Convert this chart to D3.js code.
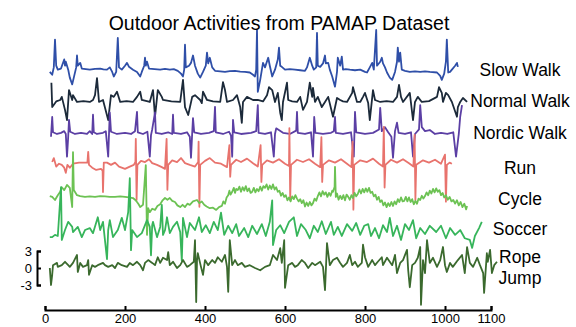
<!DOCTYPE html>
<html>
<head>
<meta charset="utf-8">
<script src="https://cdn.jsdelivr.net/npm/d3@7"></script>
<style>
  body { margin: 0; background: #fff; }
  svg { display: block; font-family: "Liberation Sans", Arial, sans-serif; }
</style>
</head>
<body>
<div id="chart"></div>
<script>
// activity names (right-hand labels)
const activities = ["Slow Walk", "Normal Walk", "Nordic Walk", "Run", "Cycle", "Soccer", "Rope Jump"];

// signals: [sample, value]
const slowWalk = [[12,-0.4],[18,-0.9],[22,0.4],[25,5.3],[28,0.7],[32,0],[40,0.2],[48,1.8],[50,0.7],[52,1.4],[58,0],[62,-1.4],[68,-2.6],[72,-1.4],[78,0.4],[80,2.5],[82,0.7],[88,1.2],[92,0.2],[102,0.1],[112,0],[125,0.15],[138,0.2],[146,0.05],[155,0],[162,0.4],[168,-0.4],[172,-1.2],[178,-0.4],[182,5.6],[185,0.4],[192,0],[200,0.7],[205,1.2],[210,0.5],[220,0],[230,-0.4],[238,-1.2],[242,-0.4],[248,0.7],[250,2.1],[252,0.7],[255,1.4],[260,0.2],[274,0.1],[288,0],[300,0.15],[312,0],[322,0.1],[332,-0.2],[340,-0.7],[345,-1.2],[348,0],[350,4.4],[352,0.4],[360,0.7],[365,1.2],[370,2.5],[375,0.7],[382,-0.7],[388,-1.4],[395,-0.4],[402,0.7],[405,3.0],[408,1.1],[412,2.1],[418,0.4],[425,-0.2],[438,-0.3],[450,-0.4],[462,-0.25],[475,-0.2],[488,-0.35],[500,-0.4],[512,-0.5],[520,-0.9],[525,-1.2],[528,0],[530,7.0],[532,-3.9],[538,-1.8],[545,1.2],[550,0.4],[558,2.1],[562,0.7],[568,-1.2],[575,0],[582,1.8],[585,3.9],[588,0.7],[592,0.5],[600,0],[612,0.1],[625,0],[638,-0.1],[650,-0.2],[655,0.4],[662,2.1],[668,0.7],[672,0],[678,0.4],[680,6.5],[682,0.7],[688,0.5],[695,1.1],[700,2.5],[702,1.1],[708,1.2],[712,0],[718,-1.2],[725,-3.0],[730,-0.4],[732,2.1],[738,0.7],[742,2.3],[745,0],[752,0.1],[762,0],[775,-0.1],[788,0],[800,-0.4],[805,-0.5],[812,0.4],[818,1.2],[822,0],[828,7.0],[830,0.7],[838,1.4],[842,2.1],[845,1.1],[850,0.4],[855,-0.5],[862,-1.4],[868,-1.8],[875,-0.4],[880,1.4],[882,3.9],[885,1.4],[888,3.0],[892,0],[900,-0.2],[912,-0.4],[925,-0.3],[938,-0.4],[950,-0.3],[962,-0.4],[980,-0.5],[988,-1.1],[992,-1.8],[998,-0.7],[1002,1.4],[1004,5.3],[1007,-0.5],[1011,-0.4],[1015,0],[1022,0.7],[1026,1.2],[1028,0.5]];

const normalWalk = [[16,3.4],[18,-0.9],[28,0.1],[38,0.35],[42,0.9],[50,-1.4],[55,-3.2],[60,2.1],[68,0.35],[70,1.2],[80,0],[96,0.15],[112,0],[120,0.35],[125,1.2],[130,4.2],[135,0],[145,0.35],[158,-3.2],[165,1.2],[172,0.9],[180,1.8],[188,0],[204,0.15],[220,0],[230,0.9],[238,1.8],[242,0.35],[262,0],[270,2.1],[275,-2.6],[282,2.1],[292,0.9],[295,0.35],[316,0.1],[338,0],[345,3.9],[350,-0.9],[358,-2.3],[368,0.9],[375,1.2],[388,0.35],[392,-0.2],[395,1.8],[405,0.35],[420,0.1],[438,0],[445,3.5],[450,2.1],[455,0],[470,0.35],[480,1.2],[488,-0.9],[492,-3.7],[495,0],[505,0.9],[520,0.35],[532,0.35],[545,0.1],[555,1.2],[560,2.6],[568,2.1],[575,0],[582,1.6],[588,-1.9],[592,-3.2],[595,0],[605,3.4],[608,0.35],[618,0.1],[630,0],[638,0.9],[645,-1.4],[655,0],[662,3.4],[668,0.9],[670,2.5],[675,0],[682,0.9],[692,-0.9],[700,0],[708,0.9],[720,-2.6],[730,0.7],[738,0.35],[745,0.1],[755,0],[768,1.6],[770,2.6],[780,0],[788,0],[795,0.9],[800,1.6],[808,-0.2],[812,-3.2],[820,2.1],[825,0.35],[838,0],[854,0.15],[870,0],[880,0.9],[885,3.0],[890,0.9],[895,0],[912,1.6],[920,-3.2],[925,0],[932,0.9],[942,0],[960,0.15],[980,0.9],[985,2.6],[992,1.6],[995,0],[1002,1.6],[1007,1.2],[1015,0],[1026,-2.6],[1028,-0.9],[1033,0],[1039,0.7],[1048,0]];

const nordicWalk = [[15,-0.5],[18,3.0],[20,0.3],[30,0],[40,0.2],[48,0.5],[52,0],[55,-4.0],[58,-0.5],[60,2.5],[63,0.4],[75,0],[90,0.2],[105,0],[112,0.5],[118,0],[120,3.4],[122,0.3],[130,0],[145,0.2],[152,0.5],[158,-4.0],[160,0],[162,3.8],[165,0.4],[180,0],[200,0.2],[215,0],[225,0.5],[230,3.9],[232,0.3],[245,0],[256,0.4],[262,-4.0],[265,-0.2],[268,0.8],[275,3.8],[277,0.2],[292,0],[308,0.3],[318,0],[320,3.4],[322,0.2],[340,0],[355,0.3],[362,-0.5],[365,-4.2],[368,0.2],[370,2.8],[373,0.3],[390,0],[410,0.2],[422,0.5],[425,4.8],[427,0.3],[445,0],[460,0.4],[465,-0.3],[468,-4.0],[470,2.5],[473,0.3],[490,0],[515,0.2],[528,0.5],[532,5.1],[534,0.2],[550,0],[565,0.3],[572,-4.0],[575,0],[578,1.0],[595,0.2],[612,0],[628,0.6],[630,3.9],[632,0.2],[650,0],[665,0.3],[670,-4.0],[673,3.0],[676,0.2],[695,0],[715,0.2],[722,0.5],[725,3.0],[727,0.2],[745,0],[765,0.3],[772,-4.0],[775,3.9],[778,0.3],[800,0],[820,0.2],[835,0.8],[838,4.6],[842,0.5],[850,1.2],[858,0.3],[866,-0.5],[870,-4.2],[875,0.5],[880,2.0],[884,0.2],[900,0],[915,0.3],[920,-4.0],[925,0],[935,0.8],[938,5.1],[942,1.2],[950,0.5],[962,0.7],[975,0],[990,0.2],[1005,0],[1018,0.3],[1024,-4.0],[1030,0],[1033,3.0],[1037,5.1]];

const run = [[18,0.5],[22,1.2],[28,-0.3],[35,0.2],[42,0],[48,-0.5],[52,-1.4],[56,0],[62,-0.5],[70,0.2],[85,0.4],[100,0.4],[106,0.4],[108,2.3],[110,0],[118,-0.5],[128,-0.9],[140,-0.7],[144,-1.0],[145,-4.8],[147,0.4],[155,0.4],[165,0],[175,0.4],[185,-0.3],[200,-0.7],[212,-0.3],[222,0],[226,0.5],[227,4.6],[229,-6.2],[231,0],[240,0.7],[250,0.5],[260,1.0],[268,0.3],[280,0],[292,-0.4],[300,-0.7],[304,4.6],[306,-4.4],[308,0],[318,0.8],[330,0.5],[340,1.2],[350,0.3],[362,0],[375,-0.3],[383,0.5],[384,4.1],[386,-7.4],[388,0],[400,0.7],[412,1.2],[425,0.4],[440,0.2],[455,-0.4],[461,3.5],[463,-2.1],[465,0],[478,0.9],[490,0.5],[505,1.1],[520,0.3],[532,-0.3],[539,3.5],[541,-3.0],[543,0],[555,0.8],[570,0.4],[585,1.0],[600,0.2],[610,-0.2],[611,6.5],[613,-6.2],[615,0],[630,0.9],[645,0.5],[660,1.0],[675,0.2],[688,-0.4],[691,4.9],[693,-3.0],[695,0],[710,0.8],[725,0.4],[740,1.0],[755,0.2],[766,-0.4],[769,4.1],[771,-7.9],[773,0],[788,0.8],[805,0.5],[820,1.1],[835,0.2],[845,-0.3],[847,6.7],[849,-4.0],[851,0],[865,0.9],[880,0.4],[895,1.0],[910,0.3],[921,-0.3],[924,5.3],[926,-6.2],[928,0],[945,0.8],[960,0.4],[975,0.9],[990,0.2],[1000,1.8],[1002,-6.5],[1004,0],[1010,0.4],[1015,0.2]];

const cycle = [[12,0.35],[18,0.2],[25,-0.35],[32,0.5],[38,1.1],[42,1.9],[48,1.4],[55,2.3],[62,1.8],[68,-1.6],[70,8.1],[72,1.4],[80,0.5],[88,0.35],[100,0.2],[112,0.3],[125,0.2],[138,0.35],[150,0.3],[162,0.2],[175,0.2],[188,0.3],[200,0.2],[210,0.1],[220,0],[225,-0.3],[230,-0.7],[234,-1.1],[238,-1.6],[245,-1.2],[252,5.8],[255,-6.5],[258,-1.8],[262,-2.5],[268,-1.9],[275,-2.1],[281,-1.4],[288,-1.1],[294,-0.4],[300,0],[306,-0.3],[312,0],[318,-0.5],[325,-0.7],[331,-1.3],[338,-1.6],[344,-1.2],[350,-1.6],[356,-1.0],[362,-1.2],[370,-0.6],[380,-0.35],[386,-0.9],[392,-0.6],[398,-1.2],[404,-1.5],[412,-1.8],[420,-1.7],[428,-2.1],[435,-1.6],[442,-1.4],[446,-0.6],[450,-1.0],[454,0.1],[458,0.5],[461,1.3],[464,0.6],[468,1.1],[472,1.8],[475,0.9],[478,1.6],[482,1.4],[486,2.0],[490,1.1],[494,1.9],[498,1.3],[502,2.1],[506,1.2],[510,1.7],[514,0.9],[518,1.1],[522,1.8],[526,1.0],[530,1.6],[534,1.2],[538,2.0],[542,1.3],[546,2.1],[550,1.8],[554,2.4],[558,1.5],[562,2.2],[566,1.6],[570,2.4],[574,1.5],[578,1.9],[582,1.1],[586,1.3],[590,0.4],[594,0.9],[598,0.2],[602,0.5],[606,-0.4],[610,0.1],[614,-0.6],[618,0.3],[622,-0.2],[626,0.5],[630,-0.1],[634,-0.6],[638,-0.2],[642,-0.9],[646,-0.4],[650,-1.5],[654,-0.8],[658,-1.4],[662,-0.7],[666,-1.3],[670,-0.9],[674,-0.1],[678,-0.5],[682,0.35],[686,1.0],[690,0.3],[694,1.2],[698,0.6],[702,1.0],[706,0.2],[710,0.9],[714,0.4],[718,1.3],[720,1.1],[724,2.0],[725,5.5],[727,0.2],[730,0.8],[734,-0.3],[738,0.4],[742,-0.2],[746,0.5],[750,-0.4],[754,0.6],[758,0.2],[762,-0.3],[766,0.5],[770,0],[774,0.9],[778,0.3],[782,0.7],[786,1.5],[790,0.8],[794,1.6],[798,1.0],[802,1.7],[806,1.1],[810,1.8],[814,0.9],[818,1.1],[822,0.3],[826,0.6],[830,-0.3],[834,0.2],[838,-0.7],[842,-0.4],[846,-1.3],[850,-0.8],[854,-1.6],[858,-0.9],[862,-1.4],[866,-0.7],[870,-1.4],[874,-0.6],[878,-1.1],[882,-0.2],[886,-0.7],[890,0.1],[894,-0.6],[898,-0.5],[902,0.2],[906,-0.6],[910,0.1],[914,-0.7],[918,-0.2],[922,-1.1],[926,-0.5],[930,-1.0],[934,-0.1],[938,-0.35],[942,0.4],[946,-0.1],[950,0.35],[954,1.0],[958,0.5],[962,1.3],[966,0.8],[970,1.6],[974,1.0],[978,1.7],[982,1.1],[986,1.4],[990,0.5],[994,0.9],[998,0.1],[1002,0.5],[1006,-0.3],[1010,0.2],[1014,-0.6],[1018,-0.35],[1022,-1.0],[1026,-0.4],[1030,-1.3],[1034,-0.7],[1038,-1.6],[1042,-1.0],[1046,-2.0],[1048,-1.4]];

const soccer = [[12,-0.9],[18,-0.9],[25,-0.5],[32,-0.7],[40,7.9],[42,-1.4],[50,0.35],[58,1.8],[68,0.9],[70,0],[82,0.9],[92,-0.9],[100,0.35],[112,0.7],[120,-0.2],[132,2.6],[138,0.35],[145,1.8],[155,-4.8],[158,0.35],[162,2.1],[170,-0.9],[182,0.35],[192,2.5],[200,0.35],[208,3.5],[212,9.5],[215,-3.2],[218,0.35],[230,-0.9],[242,-0.2],[255,2.1],[262,0.9],[265,-4.1],[268,1.2],[270,1.8],[280,-0.9],[288,0.9],[292,4.8],[295,-0.5],[300,0.35],[305,2.6],[312,-0.2],[320,0.9],[330,1.8],[338,0],[342,-5.1],[345,2.5],[355,-0.9],[362,1.6],[375,0.35],[385,2.6],[392,0],[402,1.2],[412,-0.2],[422,1.8],[432,0.35],[440,3.4],[448,-0.5],[458,1.1],[468,-0.2],[478,1.4],[485,-0.7],[498,0.7],[508,-0.9],[518,1.1],[530,-0.35],[542,1.4],[552,-0.7],[562,1.8],[568,5.6],[570,-2.3],[578,0.35],[588,1.2],[598,-0.2],[610,1.8],[622,2.6],[630,-0.7],[640,1.4],[652,0.35],[662,-1.1],[672,1.1],[682,0],[692,1.9],[702,-0.35],[715,1.8],[722,-0.5],[732,0.9],[742,-0.7],[755,1.4],[768,0.2],[778,1.6],[788,-0.5],[798,1.1],[808,1.4],[815,-0.7],[825,0.7],[835,-1.1],[845,1.2],[855,0],[862,2.5],[870,-0.7],[880,1.1],[890,-1.4],[900,1.4],[910,0.35],[920,2.1],[928,-1.1],[938,0.7],[950,-0.35],[962,1.1],[978,0],[990,1.1],[1002,-1.1],[1011,0.7],[1022,-0.5],[1033,0.35],[1043,-1.1],[1054,-1.4],[1059,-2.8],[1065,-0.7],[1074,0.7],[1080,1.8]];

const ropeJump = [[12,0],[15,-3.0],[18,-1.2],[20,0.5],[30,0.9],[32,0.2],[42,0.5],[50,1.1],[58,0.5],[62,0.2],[70,0.9],[80,2.3],[82,-0.7],[88,0.9],[95,0.2],[105,0.5],[108,1.4],[110,-1.2],[118,0.5],[125,0.2],[132,0.5],[145,0.9],[150,0.5],[158,0.2],[168,0.5],[175,0],[182,0.9],[192,0.5],[205,0.2],[212,0.9],[220,0.5],[230,1.1],[238,0.5],[245,-0.4],[250,0.9],[258,1.4],[268,0.9],[275,0.5],[282,1.9],[288,0.9],[295,1.8],[305,1.4],[308,2.8],[312,0.5],[320,1.1],[330,0],[338,0.5],[345,1.4],[355,0.2],[362,0.5],[372,1.1],[375,4.9],[378,-6.0],[380,1.4],[382,2.6],[390,0.2],[395,-1.2],[400,1.4],[408,0.5],[418,1.4],[425,0.9],[432,1.9],[442,1.1],[450,2.3],[455,0.2],[458,-4.2],[462,4.9],[468,0.5],[475,1.4],[482,0.5],[492,0.9],[500,0.2],[512,0.5],[525,0],[538,-0.4],[550,0.2],[562,0.5],[570,2.3],[580,1.4],[588,3.5],[592,0.9],[598,4.9],[600,-3.5],[608,0.5],[618,0.9],[625,0.2],[632,0.5],[642,1.4],[650,0.9],[658,0],[668,0.9],[675,0.5],[688,1.1],[695,0.2],[700,-3.9],[705,4.4],[712,0.5],[720,1.4],[730,1.8],[738,0.9],[745,0.2],[755,0.9],[762,2.3],[768,0.5],[775,1.1],[782,0.2],[792,0.9],[795,4.1],[800,1.9],[808,0.2],[818,1.4],[825,0.5],[832,1.1],[842,1.9],[845,0.5],[855,1.8],[868,0.5],[875,2.3],[880,-0.9],[888,0.9],[895,1.4],[905,3.2],[908,-0.4],[912,-3.4],[918,0.5],[925,0.9],[932,1.8],[938,3.7],[940,-6.5],[945,1.4],[950,-0.9],[955,4.9],[962,0.9],[970,1.8],[980,0.2],[988,1.4],[995,3.7],[1000,0.5],[1004,-0.7],[1011,0.9],[1017,0.2],[1028,1.4],[1037,2.3],[1043,-0.9],[1048,3.7],[1054,0.9],[1061,0.2],[1070,1.8],[1076,0.5],[1083,-0.9],[1085,-4.4],[1091,2.6],[1093,1.1],[1098,3.2],[1102,-0.9],[1107,0.5],[1113,1.1]];

// axis ticks
const xTicks = [0, 200, 400, 600, 800, 1000, 1100];
const yTicks = [-3, 0, 3];

(function () {
  const width = 576, height = 327;

  const svg = d3.select("#chart").append("svg")
    .attr("width", width)
    .attr("height", height);

  // the 1000..1100 stretch is a bit wider in the original axis
  const x = d3.scaleLinear()
    .domain([0, 1000, 1100])
    .range([45, 445, 491]);

  // one y scale, every lane shifted up from the rope jump lane
  const y = d3.scaleLinear()
    .domain([-3, 3])
    .range([285, 251]);

  const laneShift = [35, 29.3, 23.65, 18.2, 12.35, 6.35, 0];
  const colors = ["#2f4fa8", "#1c2a3a", "#5b3fa4", "#e8736d", "#6cc253", "#37b55b", "#3b6a2e"];
  const signals = [slowWalk, normalWalk, nordicWalk, run, cycle, soccer, ropeJump];

  // Lines
  signals.forEach((data, i) => {
    const line = d3.line()
      .x(d => x(d[0]))
      .y(d => y(d[1] + laneShift[i]));

    svg.append("path")
      .datum(data)
      .attr("fill", "none")
      .attr("stroke", colors[i])
      .attr("stroke-width", 1.8)
      .attr("stroke-linejoin", "round")
      .attr("d", line);
  });

  const fontFamily = "'Liberation Sans', Arial, sans-serif";

  // X axis
  svg.append("g")
    .attr("transform", "translate(0,310)")
    .call(d3.axisBottom(x)
      .tickValues(xTicks)
      .tickFormat(d3.format("d"))
      .tickSizeInner(-4)
      .tickSizeOuter(-4)
      .tickPadding(4))
    .call(g => g.selectAll("path, line").attr("stroke", "#000").attr("stroke-width", 2))
    .call(g => g.selectAll("text").attr("fill", "#000").style("font-size", "13px")
      .style("font-family", fontFamily));

  // Y scale bracket for the bottom lane
  svg.append("g")
    .attr("transform", "translate(37,0)")
    .call(d3.axisLeft(y)
      .tickValues(yTicks)
      .tickFormat(d => d < 0 ? "-" + Math.abs(d) : String(d))
      .tickSizeInner(-4)
      .tickSizeOuter(-4)
      .tickPadding(5))
    .call(g => g.selectAll("path, line").attr("stroke", "#000").attr("stroke-width", 2))
    .call(g => g.selectAll("text").attr("fill", "#000").style("font-size", "13px")
      .style("font-family", fontFamily));

  // Labels
  const labelY = [75.5, 106.5, 139, 174, 205, 235, 263];
  activities.forEach((name, i) => {
    const t = svg.append("text")
      .attr("x", 520)
      .attr("y", labelY[i])
      .attr("text-anchor", "middle")
      .attr("fill", "#000")
      .style("font-size", "17.5px");
    if (name === "Rope Jump") {
      t.append("tspan").attr("x", 520).text("Rope");
      t.append("tspan").attr("x", 520).attr("dy", 21).text("Jump");
    } else {
      t.text(name);
    }
  });

  // Title
  svg.append("text")
    .attr("x", 279)
    .attr("y", 30)
    .attr("text-anchor", "middle")
    .attr("fill", "#000")
    .style("font-size", "19.5px")
    .text("Outdoor Activities from PAMAP Dataset");
})();
</script>
</body>
</html>
